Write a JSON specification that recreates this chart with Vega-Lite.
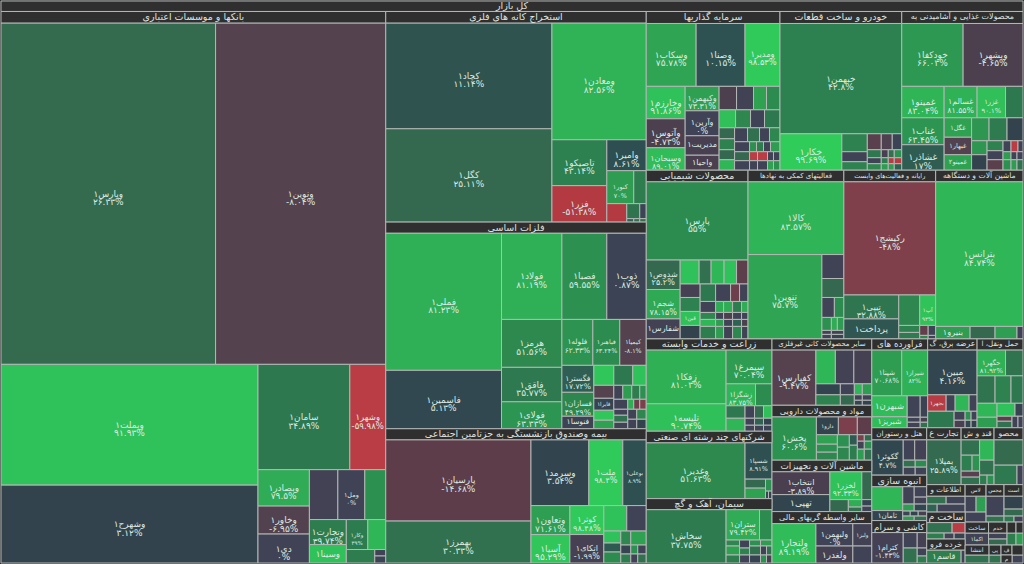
{"$schema":"https://vega.github.io/schema/vega-lite/v6.json","width":1024,"height":564,"autosize":{"type":"fit","contains":"padding"},"padding":0,"background":"#2f2f2f","view":{"stroke":null},
"datasets":{"sectors":[
{"name":"کل بازار","x0":0,"x1":1024,"y0":1,"y1":11.5},
{"name":"بانکها و موسسات اعتباری","x0":0,"x1":385.5,"y0":11.5,"y1":23},
{"name":"استخراج کانه های فلزی","x0":385.5,"x1":646.5,"y0":11.5,"y1":23},
{"name":"سرمایه گذاریها","x0":646.5,"x1":780.5,"y0":11.5,"y1":23.5},
{"name":"خودرو و ساخت قطعات","x0":780.5,"x1":902.5,"y0":11.5,"y1":23.5},
{"name":"محصولات غذایی و آشامیدنی به","x0":902.5,"x1":1024,"y0":11.5,"y1":23.5},
{"name":"فلزات اساسی","x0":385.5,"x1":646.5,"y0":222.5,"y1":233.5},
{"name":"بیمه وصندوق بازنشستگی به جزتامین اجتماعی","x0":385.5,"x1":646.5,"y0":429.5,"y1":440.5},
{"name":"محصولات شیمیایی","x0":646.5,"x1":748.5,"y0":170.5,"y1":182},
{"name":"فعالیتهای کمکی به نهادها","x0":748.5,"x1":844.5,"y0":170.5,"y1":182},
{"name":"رایانه و فعالیت‌های وابست","x0":844.5,"x1":936.5,"y0":170.5,"y1":182},
{"name":"ماشین آلات و دستگاهه","x0":936.5,"x1":1024,"y0":170.5,"y1":182},
{"name":"زراعت و خدمات وابسته","x0":646.5,"x1":772.5,"y0":339.5,"y1":350.5},
{"name":"سایر محصولات کانی غیرفلزی","x0":772.5,"x1":872.5,"y0":339.5,"y1":350.5},
{"name":"فراورده های","x0":872.5,"x1":928.5,"y0":339.5,"y1":350.5},
{"name":"عرضه برق، گ","x0":928.5,"x1":978,"y0":339.5,"y1":350.5},
{"name":"حمل ونقل، ا","x0":978,"x1":1024,"y0":339.5,"y1":350.5},
{"name":"شرکتهای چند رشته ای صنعتی","x0":646.5,"x1":772.5,"y0":432,"y1":443.5},
{"name":"سیمان، آهک و گچ","x0":646.5,"x1":772.5,"y0":499.5,"y1":510.5},
{"name":"مواد و محصولات دارویی","x0":772.5,"x1":872.5,"y0":406,"y1":417.5},
{"name":"ماشین آلات و تجهیزات","x0":772.5,"x1":872.5,"y0":461,"y1":472.5},
{"name":"سایر واسطه گریهای مالی","x0":772.5,"x1":872.5,"y0":512.5,"y1":524.5},
{"name":"هتل و رستوران","x0":872.5,"x1":927.5,"y0":428.5,"y1":440.5},
{"name":"انبوه سازی","x0":872.5,"x1":927.5,"y0":476,"y1":487.5},
{"name":"کاشی و سرام","x0":872.5,"x1":927.5,"y0":521.5,"y1":533.5},
{"name":"تجارت ع","x0":927.5,"x1":962,"y0":428.5,"y1":440.5},
{"name":"قند و ش","x0":962,"x1":995,"y0":428.5,"y1":440.5},
{"name":"محصو","x0":995,"x1":1024,"y0":428.5,"y1":440.5},
{"name":"اطلاعات و","x0":927.5,"x1":966,"y0":485.5,"y1":497},
{"name":"لاس","x0":966,"x1":987,"y0":485.5,"y1":497},
{"name":"مجس","x0":987,"x1":1005,"y0":485.5,"y1":497},
{"name":"است","x0":1005,"x1":1024,"y0":485.5,"y1":497},
{"name":"ساخت م","x0":927.5,"x1":966,"y0":513,"y1":523.5},
{"name":"خرده فرو","x0":927.5,"x1":966,"y0":540,"y1":551},
{"name":"ساخت","x0":966,"x1":989.5,"y0":523,"y1":534},
{"name":"خدم","x0":989.5,"x1":1008,"y0":523,"y1":534},
{"name":"","x0":1008,"x1":1017,"y0":523,"y1":534},
{"name":"","x0":1017,"x1":1024,"y0":523,"y1":534},
{"name":"انتشا","x0":966,"x1":990,"y0":546,"y1":556},
{"name":"پی","x0":990,"x1":1002,"y0":546,"y1":556},
{"name":"ف","x0":1002,"x1":1013,"y0":546,"y1":556},
{"name":"م","x0":1002,"x1":1013,"y0":556,"y1":564},
{"name":"","x0":1013,"x1":1024,"y0":546,"y1":556}
],
"cells":[
{"label":"وپارس۱\n۲۶.۳۳%","change":26.33,"x0":0,"x1":215,"y0":23,"y1":365},
{"label":"ونوین۱\n-۸.۰۴%","change":-8.04,"x0":215,"x1":385.5,"y0":23,"y1":365},
{"label":"وبملت۱\n۹۱.۹۳%","change":91.93,"x0":0,"x1":257.5,"y0":365,"y1":486},
{"label":"وشهرح۱\n۳.۱۲%","change":3.12,"x0":0,"x1":257.5,"y0":486,"y1":564},
{"label":"سامان۱\n۳۴.۸۹%","change":34.89,"x0":257.5,"x1":349.5,"y0":365,"y1":470.5},
{"label":"وشهر۱\n-۵۹.۹۸%","change":-59.98,"x0":349.5,"x1":385.5,"y0":365,"y1":470.5},
{"label":"وبصادر۱\n۷۹.۵%","change":79.5,"x0":257.5,"x1":309,"y0":470.5,"y1":507},
{"label":"وخاور۱\n-۶.۹۵%","change":-6.95,"x0":257.5,"x1":309,"y0":507,"y1":535},
{"label":"دی۱\n۰%","change":0,"x0":257.5,"x1":309,"y0":535,"y1":564},
{"label":"","change":-1,"x0":309,"x1":337.5,"y0":470.5,"y1":520.5},
{"label":"ومل۱\n۰%","change":0,"x0":337.5,"x1":364.5,"y0":470.5,"y1":520.5},
{"label":"","change":60,"x0":364.5,"x1":385.5,"y0":470.5,"y1":520.5},
{"label":"وتجارت۱\n۳۹.۷۴%","change":39.74,"x0":309,"x1":346,"y0":520.5,"y1":545.5},
{"label":"وکار۱\n۳۹%","change":39,"x0":346,"x1":367.5,"y0":520.5,"y1":550.5},
{"label":"","change":85,"x0":367.5,"x1":385.5,"y0":520.5,"y1":550.5},
{"label":"وسینا۱","change":92,"x0":309,"x1":346,"y0":545.5,"y1":564},
{"label":"","change":40,"x0":346,"x1":374.5,"y0":550.5,"y1":564},
{"label":"","change":0,"x0":374.5,"x1":385.5,"y0":550.5,"y1":557},
{"label":"","change":1,"x0":374.5,"x1":385.5,"y0":557,"y1":564},

{"label":"کچاد۱\n۱۱.۱۴%","change":11.14,"x0":385.5,"x1":552,"y0":23,"y1":129},
{"label":"کگل۱\n۲۵.۱۱%","change":25.11,"x0":385.5,"x1":552,"y0":129,"y1":222.5},
{"label":"ومعادن۱\n۸۲.۵۶%","change":82.56,"x0":552,"x1":646.5,"y0":23,"y1":140},
{"label":"تاصیکو۱\n۴۳.۱۴%","change":43.14,"x0":552,"x1":607,"y0":140,"y1":186},
{"label":"فزر۱\n-۵۱.۳۸%","change":-51.38,"x0":552,"x1":607,"y0":186,"y1":222.5},
{"label":"وامیر۱\n۸.۶۱%","change":8.61,"x0":607,"x1":646.5,"y0":140,"y1":171},
{"label":"کنور۱\n۷۰%","change":70,"x0":607,"x1":634,"y0":171,"y1":204},
{"label":"","change":40,"x0":634,"x1":646.5,"y0":171,"y1":204},
{"label":"","change":-52,"x0":607,"x1":627,"y0":204,"y1":222.5},
{"label":"","change":32,"x0":627,"x1":640,"y0":204,"y1":219},
{"label":"","change":1,"x0":640,"x1":646.5,"y0":204,"y1":219},
{"label":"","change":20,"x0":627,"x1":634,"y0":219,"y1":222.5},
{"label":"","change":30,"x0":634,"x1":640,"y0":219,"y1":222.5},
{"label":"","change":30,"x0":640,"x1":646.5,"y0":219,"y1":222.5},

{"label":"فملی۱\n۸۱.۲۳%","change":81.23,"x0":385.5,"x1":501.5,"y0":233.5,"y1":371},
{"label":"فاسمین۱\n۵.۱۳%","change":5.13,"x0":385.5,"x1":501.5,"y0":371,"y1":429.5},
{"label":"فولاد۱\n۸۱.۱۹%","change":81.19,"x0":501.5,"x1":562,"y0":233.5,"y1":320},
{"label":"فصبا۱\n۵۹.۵۵%","change":59.55,"x0":562,"x1":607,"y0":233.5,"y1":320},
{"label":"ذوب۱\n۰.۸۷%","change":0.87,"x0":607,"x1":646.5,"y0":233.5,"y1":320},
{"label":"هرمز۱\n۵۱.۵۶%","change":51.56,"x0":501.5,"x1":562,"y0":320,"y1":368},
{"label":"فاقق۱\n۳۵.۷۷%","change":35.77,"x0":501.5,"x1":562,"y0":368,"y1":402.5},
{"label":"فولای۱\n۶۳.۳۳%","change":63.33,"x0":501.5,"x1":562,"y0":402.5,"y1":429.5},
{"label":"فلوله۱\n۶۲.۳۳%","change":62.33,"x0":562,"x1":593,"y0":320,"y1":366},
{"label":"فباهنر۱\n۶۳.۲۴%","change":55,"x0":593,"x1":620,"y0":320,"y1":366},
{"label":"کیمیا۱\n-۸.۱%","change":-8.1,"x0":620,"x1":646.5,"y0":320,"y1":366},
{"label":"فگستر۱\n۱۷.۷۲%","change":17.72,"x0":562,"x1":594,"y0":366,"y1":393},
{"label":"فسازان۱\n۴۹.۲۹%","change":49.29,"x0":562,"x1":594,"y0":393,"y1":417},
{"label":"فنوسا۱","change":1,"x0":562,"x1":594,"y0":417,"y1":429.5},
{"label":"","change":95,"x0":594,"x1":614,"y0":366,"y1":386},
{"label":"","change":35,"x0":614,"x1":633,"y0":366,"y1":386},
{"label":"","change":92,"x0":633,"x1":646.5,"y0":366,"y1":386},
{"label":"","change":-8,"x0":594,"x1":614,"y0":386,"y1":399},
{"label":"فایرا۱","change":2,"x0":594,"x1":614,"y0":399,"y1":411},
{"label":"","change":95,"x0":594,"x1":614,"y0":411,"y1":421},
{"label":"","change":75,"x0":594,"x1":614,"y0":421,"y1":429.5},
{"label":"","change":0,"x0":614,"x1":623,"y0":386,"y1":400},
{"label":"","change":70,"x0":623,"x1":632,"y0":386,"y1":400},
{"label":"","change":40,"x0":632,"x1":640,"y0":386,"y1":400},
{"label":"","change":60,"x0":640,"x1":646.5,"y0":386,"y1":400},
{"label":"","change":0,"x0":614,"x1":628,"y0":400,"y1":410},
{"label":"","change":0,"x0":614,"x1":628,"y0":410,"y1":416},
{"label":"","change":30,"x0":614,"x1":628,"y0":416,"y1":423},
{"label":"","change":0,"x0":614,"x1":628,"y0":423,"y1":429.5},
{"label":"","change":80,"x0":628,"x1":634,"y0":400,"y1":410},
{"label":"","change":-30,"x0":634,"x1":640,"y0":400,"y1":410},
{"label":"","change":-45,"x0":640,"x1":646.5,"y0":400,"y1":410},
{"label":"","change":0,"x0":628,"x1":637,"y0":410,"y1":420},
{"label":"","change":50,"x0":637,"x1":646.5,"y0":410,"y1":420},
{"label":"","change":0,"x0":628,"x1":637,"y0":420,"y1":429.5},
{"label":"","change":3,"x0":637,"x1":646.5,"y0":420,"y1":429.5},

{"label":"پارسیان۱\n-۱۴.۶۸%","change":-14.68,"x0":385.5,"x1":531,"y0":440.5,"y1":522},
{"label":"بهمرز۱\n۳۰.۳۳%","change":30.33,"x0":385.5,"x1":531,"y0":522,"y1":564},
{"label":"وسرمد۱\n۳.۵۴%","change":3.54,"x0":531,"x1":589,"y0":440.5,"y1":506.5},
{"label":"ملت۱\n۹۸.۴%","change":98.4,"x0":589,"x1":623,"y0":440.5,"y1":506.5},
{"label":"بوعلی۱\n۸.۹%","change":8.9,"x0":623,"x1":646.5,"y0":440.5,"y1":506.5},
{"label":"وتعاون۱\n۷۱.۶۱%","change":71.61,"x0":531,"x1":570,"y0":506.5,"y1":535.5},
{"label":"کوثر۱\n۹۸.۴۸%","change":98.48,"x0":570,"x1":604,"y0":506.5,"y1":535.5},
{"label":"","change":92,"x0":604,"x1":627,"y0":506.5,"y1":532},
{"label":"","change":0,"x0":627,"x1":646.5,"y0":506.5,"y1":532},
{"label":"آسیا۱\n۹۵.۲۹%","change":95.29,"x0":531,"x1":570,"y0":535.5,"y1":564},
{"label":"اتکای۱\n-۱.۹۹%","change":-1.99,"x0":570,"x1":604,"y0":535.5,"y1":564},
{"label":"","change":92,"x0":604,"x1":621,"y0":532,"y1":544},
{"label":"","change":15,"x0":604,"x1":621,"y0":544,"y1":553},
{"label":"","change":55,"x0":604,"x1":621,"y0":553,"y1":564},
{"label":"","change":50,"x0":621,"x1":631,"y0":532,"y1":546},
{"label":"","change":75,"x0":631,"x1":646.5,"y0":532,"y1":546},
{"label":"","change":2,"x0":621,"x1":631,"y0":546,"y1":555},
{"label":"","change":60,"x0":631,"x1":638,"y0":546,"y1":555},
{"label":"","change":0,"x0":638,"x1":646.5,"y0":546,"y1":555},
{"label":"","change":40,"x0":621,"x1":631,"y0":555,"y1":564},
{"label":"","change":0,"x0":631,"x1":638,"y0":555,"y1":564},
{"label":"","change":30,"x0":638,"x1":646.5,"y0":555,"y1":564},

{"label":"وسکاب۱\n۷۵.۷۸%","change":75.78,"x0":646.5,"x1":696.5,"y0":23.5,"y1":86.5},
{"label":"وصنا۱\n۱۰.۱۵%","change":10.15,"x0":696.5,"x1":745.5,"y0":23.5,"y1":86.5},
{"label":"ومدیر۱\n۹۸.۵۳%","change":98.53,"x0":745.5,"x1":780.5,"y0":23.5,"y1":86.5},
{"label":"وخارزم۱\n۹۱.۸۶%","change":91.86,"x0":646.5,"x1":685.5,"y0":86.5,"y1":119},
{"label":"وآتوس۱\n-۴.۷۳%","change":-4.73,"x0":646.5,"x1":685.5,"y0":119,"y1":148},
{"label":"وسبحان۱\n۸۹.۰۱%","change":89.01,"x0":646.5,"x1":685.5,"y0":148,"y1":170.5},
{"label":"وکبهمن۱\n۷۳.۳۱%","change":73.31,"x0":685.5,"x1":719.5,"y0":86.5,"y1":111},
{"label":"وآرین۱\n۰%","change":0,"x0":685.5,"x1":719.5,"y0":111,"y1":136},
{"label":"مدیریت۱","change":-3,"x0":685.5,"x1":719.5,"y0":136,"y1":155.5},
{"label":"واحیا۱","change":-4,"x0":685.5,"x1":719.5,"y0":155.5,"y1":170.5},
{"label":"","change":-5,"x0":719.5,"x1":737,"y0":86.5,"y1":110},
{"label":"","change":-0.5,"x0":737,"x1":754,"y0":86.5,"y1":110},
{"label":"","change":75,"x0":754,"x1":767,"y0":86.5,"y1":110},
{"label":"","change":55,"x0":767,"x1":780.5,"y0":86.5,"y1":110},
{"label":"","change":90,"x0":719.5,"x1":736,"y0":110,"y1":128},
{"label":"","change":50,"x0":736,"x1":751,"y0":110,"y1":128},
{"label":"","change":0,"x0":751,"x1":765,"y0":110,"y1":128},
{"label":"","change":35,"x0":765,"x1":780.5,"y0":110,"y1":128},
{"label":"","change":25,"x0":719.5,"x1":735,"y0":128,"y1":139},
{"label":"","change":45,"x0":719.5,"x1":735,"y0":139,"y1":150},
{"label":"","change":25,"x0":719.5,"x1":735,"y0":150,"y1":160},
{"label":"","change":85,"x0":719.5,"x1":735,"y0":160,"y1":170.5},
{"label":"","change":0,"x0":735,"x1":748,"y0":128,"y1":142},
{"label":"","change":30,"x0":748,"x1":760,"y0":128,"y1":142},
{"label":"","change":0,"x0":760,"x1":770,"y0":128,"y1":142},
{"label":"","change":50,"x0":770,"x1":780.5,"y0":128,"y1":142},
{"label":"","change":0,"x0":735,"x1":750,"y0":142,"y1":152},
{"label":"","change":60,"x0":750,"x1":757,"y0":142,"y1":152},
{"label":"","change":40,"x0":757,"x1":764,"y0":142,"y1":152},
{"label":"","change":0,"x0":764,"x1":771,"y0":142,"y1":152},
{"label":"","change":70,"x0":771,"x1":780.5,"y0":142,"y1":152},
{"label":"","change":25,"x0":735,"x1":750,"y0":152,"y1":161},
{"label":"","change":-70,"x0":750,"x1":758,"y0":152,"y1":161},
{"label":"","change":-70,"x0":758,"x1":768,"y0":152,"y1":161},
{"label":"","change":0,"x0":768,"x1":774,"y0":152,"y1":161},
{"label":"","change":0,"x0":774,"x1":780.5,"y0":152,"y1":161},
{"label":"","change":0,"x0":735,"x1":750,"y0":161,"y1":170.5},
{"label":"","change":0,"x0":750,"x1":758,"y0":161,"y1":170.5},
{"label":"","change":0,"x0":758,"x1":768,"y0":161,"y1":170.5},
{"label":"","change":75,"x0":768,"x1":774,"y0":161,"y1":170.5},
{"label":"","change":60,"x0":774,"x1":780.5,"y0":161,"y1":170.5},

{"label":"خبهمن۱\n۴۲.۸%","change":42.8,"x0":780.5,"x1":902.5,"y0":23.5,"y1":134},
{"label":"خکار۱\n۹۹.۶۹%","change":99.69,"x0":780.5,"x1":842.5,"y0":134,"y1":170.5},
{"label":"","change":45,"x0":842.5,"x1":868,"y0":134,"y1":152},
{"label":"","change":0,"x0":842.5,"x1":868,"y0":152,"y1":162},
{"label":"","change":45,"x0":842.5,"x1":868,"y0":162,"y1":170.5},
{"label":"","change":-12,"x0":868,"x1":882,"y0":134,"y1":150},
{"label":"","change":-6,"x0":882,"x1":893,"y0":134,"y1":150},
{"label":"","change":1,"x0":893,"x1":902.5,"y0":134,"y1":150},
{"label":"","change":35,"x0":868,"x1":882,"y0":150,"y1":158},
{"label":"","change":0,"x0":868,"x1":882,"y0":158,"y1":164},
{"label":"","change":50,"x0":868,"x1":882,"y0":164,"y1":170.5},
{"label":"","change":-3,"x0":882,"x1":889,"y0":150,"y1":158},
{"label":"","change":30,"x0":889,"x1":895,"y0":150,"y1":158},
{"label":"","change":60,"x0":895,"x1":902.5,"y0":150,"y1":158},
{"label":"","change":40,"x0":882,"x1":889,"y0":158,"y1":164},
{"label":"","change":-55,"x0":889,"x1":895,"y0":158,"y1":164},
{"label":"","change":-55,"x0":895,"x1":902.5,"y0":158,"y1":164},
{"label":"","change":70,"x0":882,"x1":889,"y0":164,"y1":170.5},
{"label":"","change":70,"x0":889,"x1":895,"y0":164,"y1":170.5},
{"label":"","change":20,"x0":895,"x1":902.5,"y0":164,"y1":170.5},

{"label":"خودکفا۱\n۶۶.۰۳%","change":66.03,"x0":902.5,"x1":964,"y0":23.5,"y1":86.5},
{"label":"وبشهر۱\n-۴.۶۵%","change":-4.65,"x0":964,"x1":1024,"y0":23.5,"y1":86.5},
{"label":"غمینو۱\n۸۳.۰۴%","change":83.04,"x0":902.5,"x1":945,"y0":86.5,"y1":118},
{"label":"غسالم۱\n۸۱.۵۵%","change":81.55,"x0":945,"x1":978,"y0":86.5,"y1":118},
{"label":"غزر۱\n۹۰.۱%","change":90.1,"x0":978,"x1":1006.5,"y0":86.5,"y1":118},
{"label":"","change":35,"x0":1006.5,"x1":1024,"y0":86.5,"y1":118},
{"label":"غناب۱\n۶۳.۴۵%","change":63.45,"x0":902.5,"x1":945,"y0":118,"y1":145},
{"label":"غشاذر۱\n۱۷%","change":17,"x0":902.5,"x1":945,"y0":145,"y1":170.5},
{"label":"غگل۱","change":75,"x0":945,"x1":972.5,"y0":118,"y1":137.5},
{"label":"غبهار۱","change":-7,"x0":945,"x1":972.5,"y0":137.5,"y1":155},
{"label":"غمینو۲","change":75,"x0":945,"x1":972.5,"y0":155,"y1":170.5},
{"label":"","change":65,"x0":972.5,"x1":990,"y0":118,"y1":141},
{"label":"","change":38,"x0":990,"x1":1008,"y0":118,"y1":141},
{"label":"","change":3,"x0":1008,"x1":1024,"y0":118,"y1":141},
{"label":"","change":65,"x0":972.5,"x1":988,"y0":141,"y1":155},
{"label":"","change":3,"x0":972.5,"x1":988,"y0":155,"y1":170.5},
{"label":"","change":45,"x0":988,"x1":1004,"y0":141,"y1":151},
{"label":"","change":0,"x0":988,"x1":1004,"y0":151,"y1":160},
{"label":"","change":-12,"x0":988,"x1":1004,"y0":160,"y1":170.5},
{"label":"","change":0,"x0":1004,"x1":1012,"y0":141,"y1":152},
{"label":"","change":-70,"x0":1012,"x1":1019,"y0":141,"y1":152},
{"label":"","change":0,"x0":1019,"x1":1024,"y0":141,"y1":152},
{"label":"","change":70,"x0":1004,"x1":1012,"y0":152,"y1":160},
{"label":"","change":0,"x0":1012,"x1":1018,"y0":152,"y1":160},
{"label":"","change":0,"x0":1018,"x1":1024,"y0":152,"y1":160},
{"label":"","change":60,"x0":1004,"x1":1012,"y0":160,"y1":170.5},
{"label":"","change":70,"x0":1012,"x1":1018,"y0":160,"y1":170.5},
{"label":"","change":30,"x0":1018,"x1":1024,"y0":160,"y1":170.5},

{"label":"پارس۱\n۵۵%","change":55,"x0":646.5,"x1":748.5,"y0":182,"y1":260.5},
{"label":"شدوص۱\n۲۵.۲%","change":25.2,"x0":646.5,"x1":680.5,"y0":260.5,"y1":290},
{"label":"شجم۱\n۷۸.۱۵%","change":78.15,"x0":646.5,"x1":680.5,"y0":290,"y1":319.5},
{"label":"شفارس۱","change":-1,"x0":646.5,"x1":680.5,"y0":319.5,"y1":339.5},
{"label":"","change":92,"x0":680.5,"x1":699.5,"y0":260.5,"y1":284.5},
{"label":"","change":30,"x0":699.5,"x1":711.5,"y0":260.5,"y1":284.5},
{"label":"","change":85,"x0":711.5,"x1":724.5,"y0":260.5,"y1":284.5},
{"label":"","change":92,"x0":724.5,"x1":737,"y0":260.5,"y1":284.5},
{"label":"","change":-14,"x0":737,"x1":748.5,"y0":260.5,"y1":284.5},
{"label":"","change":-2,"x0":680.5,"x1":700.5,"y0":284.5,"y1":298},
{"label":"","change":45,"x0":680.5,"x1":700.5,"y0":298,"y1":312},
{"label":"قین۱","change":92,"x0":680.5,"x1":700.5,"y0":312,"y1":326},
{"label":"","change":3,"x0":680.5,"x1":700.5,"y0":326,"y1":339.5},
{"label":"","change":35,"x0":700.5,"x1":716,"y0":284.5,"y1":302},
{"label":"","change":0,"x0":716,"x1":731,"y0":284.5,"y1":302},
{"label":"","change":-30,"x0":731,"x1":740,"y0":284.5,"y1":302},
{"label":"","change":0,"x0":740,"x1":748.5,"y0":284.5,"y1":302},
{"label":"","change":0,"x0":700.5,"x1":716,"y0":302,"y1":313},
{"label":"","change":80,"x0":716,"x1":724,"y0":302,"y1":313},
{"label":"","change":80,"x0":724,"x1":733,"y0":302,"y1":313},
{"label":"","change":40,"x0":733,"x1":742,"y0":302,"y1":313},
{"label":"","change":80,"x0":742,"x1":748.5,"y0":302,"y1":313},
{"label":"","change":50,"x0":700.5,"x1":716,"y0":313,"y1":320},
{"label":"","change":0,"x0":716,"x1":724,"y0":313,"y1":320},
{"label":"","change":-5,"x0":724,"x1":733,"y0":313,"y1":320},
{"label":"","change":0,"x0":733,"x1":742,"y0":313,"y1":320},
{"label":"","change":0,"x0":742,"x1":748.5,"y0":313,"y1":320},
{"label":"","change":85,"x0":700.5,"x1":716,"y0":320,"y1":327},
{"label":"","change":70,"x0":716,"x1":724,"y0":320,"y1":327},
{"label":"","change":0,"x0":724,"x1":733,"y0":320,"y1":327},
{"label":"","change":20,"x0":733,"x1":742,"y0":320,"y1":327},
{"label":"","change":-5,"x0":742,"x1":748.5,"y0":320,"y1":327},
{"label":"","change":40,"x0":700.5,"x1":716,"y0":327,"y1":339.5},
{"label":"","change":70,"x0":716,"x1":724,"y0":327,"y1":339.5},
{"label":"","change":0,"x0":724,"x1":733,"y0":327,"y1":339.5},
{"label":"","change":50,"x0":733,"x1":742,"y0":327,"y1":339.5},
{"label":"","change":0,"x0":742,"x1":748.5,"y0":327,"y1":339.5},

{"label":"کالا۱\n۸۳.۵۷%","change":83.57,"x0":748.5,"x1":844.5,"y0":182,"y1":255},
{"label":"تنوین۱\n۷۵.۷%","change":75.7,"x0":748.5,"x1":822.5,"y0":255,"y1":339.5},
{"label":"","change":0,"x0":822.5,"x1":844.5,"y0":255,"y1":279},
{"label":"","change":25,"x0":822.5,"x1":844.5,"y0":279,"y1":298},
{"label":"","change":0,"x0":822.5,"x1":835,"y0":298,"y1":318},
{"label":"","change":55,"x0":835,"x1":844.5,"y0":298,"y1":318},
{"label":"","change":60,"x0":822.5,"x1":832,"y0":318,"y1":331},
{"label":"","change":80,"x0":832,"x1":838,"y0":318,"y1":331},
{"label":"","change":70,"x0":838,"x1":844.5,"y0":318,"y1":331},
{"label":"","change":0,"x0":822.5,"x1":832,"y0":331,"y1":335},
{"label":"","change":0,"x0":832,"x1":844.5,"y0":331,"y1":335},
{"label":"","change":0,"x0":822.5,"x1":832,"y0":335,"y1":339.5},
{"label":"","change":2,"x0":832,"x1":844.5,"y0":335,"y1":339.5},

{"label":"رکیشج۱\n-۴۸%","change":-48,"x0":844.5,"x1":936.5,"y0":182,"y1":295.5},
{"label":"تیپی۱\n۳۲.۸۸%","change":32.88,"x0":844.5,"x1":899.5,"y0":295.5,"y1":319.5},
{"label":"پرداخت۱","change":12,"x0":844.5,"x1":899.5,"y0":319.5,"y1":339.5},
{"label":"","change":50,"x0":899.5,"x1":920.5,"y0":295.5,"y1":326},
{"label":"آپ۱\n۹۳%","change":93,"x0":920.5,"x1":936.5,"y0":295.5,"y1":326},
{"label":"","change":45,"x0":899.5,"x1":920.5,"y0":326,"y1":333},
{"label":"","change":38,"x0":899.5,"x1":920.5,"y0":333,"y1":339.5},
{"label":"","change":-20,"x0":920.5,"x1":929,"y0":326,"y1":336},
{"label":"","change":0,"x0":929,"x1":936.5,"y0":326,"y1":336},
{"label":"","change":50,"x0":920.5,"x1":929,"y0":336,"y1":339.5},
{"label":"","change":0,"x0":929,"x1":936.5,"y0":336,"y1":339.5},

{"label":"بترانس۱\n۸۴.۷۴%","change":84.74,"x0":936.5,"x1":1024,"y0":182,"y1":327},
{"label":"بنیرو۱","change":70,"x0":936.5,"x1":971,"y0":327,"y1":339.5},
{"label":"","change":25,"x0":971,"x1":996,"y0":327,"y1":339.5},
{"label":"","change":72,"x0":996,"x1":1018,"y0":327,"y1":339.5},
{"label":"","change":0,"x0":1018,"x1":1024,"y0":327,"y1":339.5},

{"label":"زفکا۱\n۸۱.۰۳%","change":81.03,"x0":646.5,"x1":726.5,"y0":350.5,"y1":404.5},
{"label":"تلیسه۱\n۹۰.۷۴%","change":90.74,"x0":646.5,"x1":726.5,"y0":404.5,"y1":432},
{"label":"سیمرغ۱\n۷۰.۰۴%","change":70.04,"x0":726.5,"x1":772.5,"y0":350.5,"y1":384.5},
{"label":"زشگزا۱\n۸۳.۷۵%","change":83.75,"x0":726.5,"x1":756,"y0":384.5,"y1":406.5},
{"label":"","change":55,"x0":756,"x1":772.5,"y0":384.5,"y1":406.5},
{"label":"","change":35,"x0":726.5,"x1":745.5,"y0":406.5,"y1":419},
{"label":"","change":85,"x0":726.5,"x1":745.5,"y0":419,"y1":432},
{"label":"","change":0,"x0":745.5,"x1":755,"y0":406.5,"y1":419},
{"label":"","change":25,"x0":755,"x1":764,"y0":406.5,"y1":419},
{"label":"","change":90,"x0":764,"x1":772.5,"y0":406.5,"y1":419},
{"label":"","change":0,"x0":745.5,"x1":755,"y0":419,"y1":426},
{"label":"","change":0,"x0":745.5,"x1":755,"y0":426,"y1":432},
{"label":"","change":20,"x0":755,"x1":764,"y0":419,"y1":426},
{"label":"","change":0,"x0":755,"x1":764,"y0":426,"y1":432},
{"label":"","change":3,"x0":764,"x1":772.5,"y0":419,"y1":426},
{"label":"","change":1,"x0":764,"x1":772.5,"y0":426,"y1":432},

{"label":"وغدیر۱\n۵۱.۶۳%","change":51.63,"x0":646.5,"x1":745.5,"y0":443.5,"y1":499.5},
{"label":"شسپا۱\n۸.۹۱%","change":8.91,"x0":745.5,"x1":772.5,"y0":443.5,"y1":480},
{"label":"","change":25,"x0":745.5,"x1":766,"y0":480,"y1":489},
{"label":"","change":75,"x0":745.5,"x1":766,"y0":489,"y1":499.5},
{"label":"","change":60,"x0":766,"x1":772.5,"y0":480,"y1":492},
{"label":"","change":2,"x0":766,"x1":769,"y0":492,"y1":499.5},
{"label":"","change":3,"x0":769,"x1":772.5,"y0":492,"y1":499.5},

{"label":"سخاش۱\n۳۷.۷۵%","change":37.75,"x0":646.5,"x1":726.5,"y0":510.5,"y1":564},
{"label":"ستران۱\n۷۹.۴۲%","change":79.42,"x0":726.5,"x1":760,"y0":510.5,"y1":541},
{"label":"","change":55,"x0":760,"x1":772.5,"y0":510.5,"y1":541},
{"label":"","change":50,"x0":726.5,"x1":740,"y0":541,"y1":547},
{"label":"","change":75,"x0":726.5,"x1":740,"y0":547,"y1":556},
{"label":"","change":40,"x0":726.5,"x1":740,"y0":556,"y1":564},
{"label":"","change":0,"x0":740,"x1":750,"y0":541,"y1":549},
{"label":"","change":45,"x0":740,"x1":750,"y0":549,"y1":556},
{"label":"","change":0,"x0":740,"x1":750,"y0":556,"y1":564},
{"label":"","change":60,"x0":750,"x1":761,"y0":541,"y1":547},
{"label":"","change":30,"x0":750,"x1":761,"y0":547,"y1":556},
{"label":"","change":2,"x0":750,"x1":761,"y0":556,"y1":564},
{"label":"","change":70,"x0":761,"x1":772.5,"y0":541,"y1":547},
{"label":"","change":0,"x0":761,"x1":767,"y0":547,"y1":556},
{"label":"","change":30,"x0":767,"x1":772.5,"y0":547,"y1":556},
{"label":"","change":60,"x0":761,"x1":767,"y0":556,"y1":564},
{"label":"","change":-3,"x0":767,"x1":772.5,"y0":556,"y1":564},

{"label":"کفپارس۱\n-۹.۴۷%","change":-9.47,"x0":772.5,"x1":816.5,"y0":350.5,"y1":406},
{"label":"","change":85,"x0":816.5,"x1":836,"y0":350.5,"y1":384.5},
{"label":"","change":-1,"x0":836,"x1":854.5,"y0":350.5,"y1":384.5},
{"label":"","change":-2,"x0":854.5,"x1":872.5,"y0":350.5,"y1":384.5},
{"label":"","change":4,"x0":816.5,"x1":841,"y0":384.5,"y1":395.5},
{"label":"","change":0,"x0":841,"x1":855,"y0":384.5,"y1":395.5},
{"label":"","change":85,"x0":855,"x1":863,"y0":384.5,"y1":395.5},
{"label":"","change":70,"x0":863,"x1":872.5,"y0":384.5,"y1":395.5},
{"label":"","change":45,"x0":816.5,"x1":841,"y0":395.5,"y1":406},
{"label":"","change":25,"x0":841,"x1":855,"y0":395.5,"y1":406},
{"label":"","change":0,"x0":855,"x1":863,"y0":395.5,"y1":401},
{"label":"","change":0,"x0":863,"x1":872.5,"y0":395.5,"y1":401},
{"label":"","change":2,"x0":855,"x1":863,"y0":401,"y1":406},
{"label":"","change":3,"x0":863,"x1":872.5,"y0":401,"y1":406},

{"label":"پخش۱\n۶۰.۶%","change":60.6,"x0":772.5,"x1":817,"y0":417.5,"y1":461},
{"label":"دارو۱","change":3,"x0":817,"x1":839,"y0":417.5,"y1":435.5},
{"label":"","change":-45,"x0":839,"x1":858,"y0":417.5,"y1":435.5},
{"label":"","change":-15,"x0":858,"x1":872.5,"y0":417.5,"y1":435.5},
{"label":"","change":75,"x0":817,"x1":838,"y0":435.5,"y1":445},
{"label":"","change":60,"x0":817,"x1":838,"y0":445,"y1":453},
{"label":"","change":50,"x0":817,"x1":838,"y0":453,"y1":461},
{"label":"","change":60,"x0":838,"x1":850,"y0":435.5,"y1":448},
{"label":"","change":50,"x0":838,"x1":850,"y0":448,"y1":461},
{"label":"","change":15,"x0":850,"x1":858,"y0":435.5,"y1":446},
{"label":"","change":-45,"x0":858,"x1":865,"y0":435.5,"y1":442},
{"label":"","change":25,"x0":865,"x1":872.5,"y0":435.5,"y1":442},
{"label":"","change":0,"x0":858,"x1":865,"y0":442,"y1":450},
{"label":"","change":60,"x0":865,"x1":872.5,"y0":442,"y1":450},
{"label":"","change":40,"x0":850,"x1":858,"y0":446,"y1":461},
{"label":"","change":70,"x0":858,"x1":865,"y0":450,"y1":461},
{"label":"","change":30,"x0":865,"x1":872.5,"y0":450,"y1":461},

{"label":"انتخاب۱\n-۳.۸۹%","change":-3.89,"x0":772.5,"x1":830.5,"y0":472.5,"y1":495.5},
{"label":"تهپی۱","change":4,"x0":772.5,"x1":830.5,"y0":495.5,"y1":512.5},
{"label":"لخزر۱\n۹۲.۳۳%","change":92.33,"x0":830.5,"x1":862.5,"y0":472.5,"y1":500.5},
{"label":"","change":25,"x0":862.5,"x1":872.5,"y0":472.5,"y1":500.5},
{"label":"","change":25,"x0":830.5,"x1":849,"y0":500.5,"y1":512.5},
{"label":"","change":80,"x0":849,"x1":862.5,"y0":500.5,"y1":508},
{"label":"","change":30,"x0":849,"x1":862.5,"y0":508,"y1":512.5},
{"label":"","change":2,"x0":862.5,"x1":872.5,"y0":500.5,"y1":507},
{"label":"","change":0,"x0":862.5,"x1":872.5,"y0":507,"y1":512.5},

{"label":"ولتجار۱\n۸۹.۱۹%","change":89.19,"x0":772.5,"x1":816.5,"y0":524.5,"y1":564},
{"label":"ولبهمن۱\n۰%","change":0,"x0":816.5,"x1":853.5,"y0":524.5,"y1":547},
{"label":"ولبز۱","change":-1,"x0":853.5,"x1":872.5,"y0":524.5,"y1":547},
{"label":"ولغدر۱","change":-2,"x0":816.5,"x1":853.5,"y0":547,"y1":564},
{"label":"","change":0,"x0":853.5,"x1":872.5,"y0":547,"y1":564},

{"label":"شپنا۱\n۷۰.۶۸%","change":70.68,"x0":872.5,"x1":902.5,"y0":350.5,"y1":396.5},
{"label":"شیراز۱\n۸۲%","change":82,"x0":902.5,"x1":928.5,"y0":350.5,"y1":396.5},
{"label":"شبهرن۱","change":88,"x0":872.5,"x1":908,"y0":396.5,"y1":417.5},
{"label":"شبریز۱","change":88,"x0":872.5,"x1":908,"y0":417.5,"y1":428.5},
{"label":"","change":0,"x0":908,"x1":921,"y0":396.5,"y1":418},
{"label":"","change":1,"x0":921,"x1":928.5,"y0":396.5,"y1":418},
{"label":"","change":0,"x0":908,"x1":921,"y0":418,"y1":423},
{"label":"","change":-3,"x0":921,"x1":928.5,"y0":418,"y1":423},
{"label":"","change":0,"x0":908,"x1":921,"y0":423,"y1":428.5},
{"label":"","change":30,"x0":921,"x1":928.5,"y0":423,"y1":428.5},

{"label":"گکوثر۱\n۴.۷%","change":4.7,"x0":872.5,"x1":904,"y0":440.5,"y1":476},
{"label":"","change":0,"x0":904,"x1":915.5,"y0":440.5,"y1":461},
{"label":"","change":-1,"x0":915.5,"x1":927.5,"y0":440.5,"y1":461},
{"label":"","change":30,"x0":904,"x1":916,"y0":461,"y1":468},
{"label":"","change":55,"x0":916,"x1":927.5,"y0":461,"y1":468},
{"label":"","change":0,"x0":904,"x1":916,"y0":468,"y1":476},
{"label":"","change":0,"x0":916,"x1":927.5,"y0":468,"y1":476},

{"label":"","change":85,"x0":872.5,"x1":903.5,"y0":487.5,"y1":511.5},
{"label":"ثامان۱","change":4,"x0":872.5,"x1":903.5,"y0":511.5,"y1":521.5},
{"label":"","change":0,"x0":903.5,"x1":915,"y0":487.5,"y1":505},
{"label":"","change":0,"x0":915,"x1":927.5,"y0":487.5,"y1":498},
{"label":"","change":-1,"x0":915,"x1":927.5,"y0":498,"y1":505},
{"label":"","change":70,"x0":903.5,"x1":915,"y0":505,"y1":512},
{"label":"","change":5,"x0":915,"x1":927.5,"y0":505,"y1":512},
{"label":"","change":0,"x0":903.5,"x1":911,"y0":512,"y1":517},
{"label":"","change":3,"x0":911,"x1":919,"y0":512,"y1":517},
{"label":"","change":-3,"x0":919,"x1":927.5,"y0":512,"y1":517},
{"label":"","change":70,"x0":903.5,"x1":915,"y0":517,"y1":521.5},
{"label":"","change":30,"x0":915,"x1":927.5,"y0":517,"y1":521.5},

{"label":"کترام۱\n-۱.۴۳%","change":-1.43,"x0":872.5,"x1":904,"y0":533.5,"y1":564},
{"label":"","change":0,"x0":904,"x1":918,"y0":533.5,"y1":549},
{"label":"","change":-2,"x0":918,"x1":927.5,"y0":533.5,"y1":549},
{"label":"","change":30,"x0":904,"x1":918,"y0":549,"y1":564},
{"label":"","change":0,"x0":918,"x1":927.5,"y0":549,"y1":557},
{"label":"","change":40,"x0":918,"x1":927.5,"y0":557,"y1":564},

{"label":"مبین۱\n۴.۱۶%","change":4.16,"x0":928.5,"x1":978,"y0":350.5,"y1":395.5},
{"label":"بجهر۱","change":-55,"x0":928.5,"x1":947,"y0":395.5,"y1":412},
{"label":"","change":0,"x0":947,"x1":956,"y0":395.5,"y1":412},
{"label":"","change":85,"x0":956,"x1":970,"y0":395.5,"y1":412},
{"label":"","change":0,"x0":970,"x1":978,"y0":395.5,"y1":412},
{"label":"","change":35,"x0":928.5,"x1":955,"y0":412,"y1":428.5},
{"label":"","change":0,"x0":955,"x1":966,"y0":412,"y1":421},
{"label":"","change":-3,"x0":955,"x1":966,"y0":421,"y1":428.5},
{"label":"","change":60,"x0":966,"x1":972,"y0":412,"y1":421},
{"label":"","change":0,"x0":972,"x1":978,"y0":412,"y1":421},
{"label":"","change":5,"x0":966,"x1":972,"y0":421,"y1":428.5},
{"label":"","change":3,"x0":972,"x1":978,"y0":421,"y1":428.5},

{"label":"حگهر۱\n۸۱.۹۲%","change":81.92,"x0":978,"x1":1006.5,"y0":350.5,"y1":376.5},
{"label":"","change":32,"x0":1006.5,"x1":1024,"y0":350.5,"y1":376.5},
{"label":"","change":32,"x0":978,"x1":996,"y0":376.5,"y1":404},
{"label":"","change":45,"x0":996,"x1":1012,"y0":376.5,"y1":404},
{"label":"","change":35,"x0":1012,"x1":1024,"y0":376.5,"y1":404},
{"label":"","change":85,"x0":978,"x1":998,"y0":404,"y1":418},
{"label":"","change":92,"x0":998,"x1":1016,"y0":404,"y1":417},
{"label":"","change":2,"x0":1016,"x1":1024,"y0":404,"y1":417},
{"label":"","change":70,"x0":978,"x1":998,"y0":418,"y1":428.5},
{"label":"","change":-15,"x0":998,"x1":1013,"y0":417,"y1":422},
{"label":"","change":30,"x0":998,"x1":1013,"y0":422,"y1":428.5},
{"label":"","change":0,"x0":1013,"x1":1019,"y0":417,"y1":428.5},
{"label":"","change":0,"x0":1019,"x1":1024,"y0":417,"y1":428.5},

{"label":"بمپلا۱\n۲۵.۸۹%","change":25.89,"x0":927.5,"x1":962,"y0":440.5,"y1":485.5},
{"label":"","change":30,"x0":962,"x1":980.5,"y0":440.5,"y1":456},
{"label":"","change":85,"x0":980.5,"x1":995,"y0":440.5,"y1":461},
{"label":"","change":42,"x0":962,"x1":973,"y0":456,"y1":472},
{"label":"","change":62,"x0":973,"x1":980.5,"y0":456,"y1":472},
{"label":"","change":30,"x0":980.5,"x1":995,"y0":461,"y1":476},
{"label":"","change":-10,"x0":962,"x1":980.5,"y0":472,"y1":478},
{"label":"","change":30,"x0":962,"x1":980.5,"y0":478,"y1":485.5},
{"label":"","change":40,"x0":980.5,"x1":988,"y0":476,"y1":485.5},
{"label":"","change":60,"x0":988,"x1":995,"y0":476,"y1":485.5},
{"label":"","change":26,"x0":995,"x1":1024,"y0":440.5,"y1":466},
{"label":"","change":36,"x0":995,"x1":1018,"y0":466,"y1":485.5},
{"label":"","change":0,"x0":1018,"x1":1024,"y0":466,"y1":485.5},

{"label":"","change":30,"x0":927.5,"x1":947,"y0":497,"y1":505},
{"label":"","change":0,"x0":947,"x1":966,"y0":497,"y1":505},
{"label":"","change":20,"x0":927.5,"x1":938,"y0":505,"y1":513},
{"label":"","change":0,"x0":938,"x1":966,"y0":505,"y1":513},
{"label":"","change":30,"x0":927.5,"x1":953,"y0":523.5,"y1":534},
{"label":"","change":-70,"x0":953,"x1":966,"y0":523.5,"y1":534},
{"label":"","change":40,"x0":927.5,"x1":945,"y0":534,"y1":540},
{"label":"","change":0,"x0":945,"x1":955,"y0":534,"y1":540},
{"label":"","change":2,"x0":955,"x1":966,"y0":534,"y1":540},
{"label":"قاسم۱","change":42,"x0":927.5,"x1":962,"y0":551,"y1":564},
{"label":"","change":0,"x0":962,"x1":966,"y0":551,"y1":564},
{"label":"","change":0,"x0":966,"x1":977,"y0":497,"y1":513},
{"label":"","change":72,"x0":977,"x1":987,"y0":497,"y1":513},
{"label":"","change":0,"x0":966,"x1":987,"y0":513,"y1":523},
{"label":"","change":0,"x0":987,"x1":1005,"y0":497,"y1":517},
{"label":"","change":3,"x0":1005,"x1":1024,"y0":497,"y1":510},
{"label":"","change":25,"x0":1005,"x1":1024,"y0":510,"y1":517},
{"label":"","change":30,"x0":987,"x1":1005,"y0":517,"y1":523},
{"label":"","change":35,"x0":1005,"x1":1015,"y0":517,"y1":523},
{"label":"","change":0,"x0":1015,"x1":1024,"y0":517,"y1":523},
{"label":"اکما۱","change":0,"x0":966,"x1":989.5,"y0":534,"y1":546},
{"label":"","change":0,"x0":989.5,"x1":1008,"y0":534,"y1":540},
{"label":"","change":25,"x0":989.5,"x1":1008,"y0":540,"y1":546},
{"label":"","change":40,"x0":1008,"x1":1017,"y0":534,"y1":546},
{"label":"","change":72,"x0":1017,"x1":1024,"y0":534,"y1":546},
{"label":"","change":30,"x0":966,"x1":990,"y0":556,"y1":564},
{"label":"","change":30,"x0":990,"x1":1002,"y0":556,"y1":564},
{"label":"","change":0,"x0":1013,"x1":1024,"y0":556,"y1":564}
]},
"layer":[
{"data":{"name":"cells"},"mark":{"type":"rect","stroke":"#b4b8b6","strokeWidth":1},"encoding":{
"x":{"field":"x0","type":"quantitative","scale":{"domain":[0,1024],"nice":false,"zero":false},"axis":null},
"x2":{"field":"x1"},
"y":{"field":"y0","type":"quantitative","scale":{"domain":[564,0],"nice":false,"zero":false},"axis":null},
"y2":{"field":"y1"},
"color":{"field":"change","type":"quantitative","legend":null,"scale":{"type":"linear","clamp":true,"domain":[-60,-50,-48,-15,-8,-4,0,3,11,25,35,50,60,75,82,92,100],"range":["#ba3c44","#b33a40","#7f404c","#5e3d4a","#54434f","#4a3f4e","#404356","#33434d","#2f5450","#35694f","#2e784f","#2d874e","#2c9150","#2fa252","#2fb256","#30c25a","#30cc5a"]}}}},
{"data":{"name":"sectors"},"mark":{"type":"rect","fill":"#2f2f2f","stroke":"#b4b8b6","strokeWidth":1},"encoding":{
"x":{"field":"x0","type":"quantitative"},"x2":{"field":"x1"},"y":{"field":"y0","type":"quantitative"},"y2":{"field":"y1"}}},
{"data":{"name":"sectors"},"transform":[{"filter":"datum.name != ''"},{"calculate":"(datum.x0+datum.x1)/2","as":"cx"},{"calculate":"(datum.y0+datum.y1)/2","as":"cy"},{"calculate":"max(5.5,min(9.5,(datum.x1-datum.x0-3)/(max(length(datum.name),6)*0.55)))","as":"fs"}],"mark":{"type":"text","font":"DejaVu Sans","color":"#dfe3e0","align":"center","baseline":"middle"},"encoding":{
"x":{"field":"cx","type":"quantitative"},"y":{"field":"cy","type":"quantitative"},"text":{"field":"name"},"size":{"field":"fs","type":"quantitative","scale":null,"legend":null}}},
{"data":{"name":"cells"},"transform":[{"filter":"datum.label != ''"},{"calculate":"(datum.x0+datum.x1)/2","as":"cx"},{"calculate":"(datum.y0+datum.y1)/2","as":"cy"},{"calculate":"max(5.5,min(9,min((datum.x1-datum.x0)/4.2,(datum.y1-datum.y0)/(indexof(datum.label,'\\n')>=0?2.8:1.4))))","as":"fs"}],"mark":{"type":"text","font":"DejaVu Sans","color":"#dfeae3","align":"center","baseline":"middle","lineBreak":"\n","lineHeight":8.5},"encoding":{
"x":{"field":"cx","type":"quantitative"},"y":{"field":"cy","type":"quantitative"},"text":{"field":"label"},"size":{"field":"fs","type":"quantitative","scale":null,"legend":null}}}
]}
